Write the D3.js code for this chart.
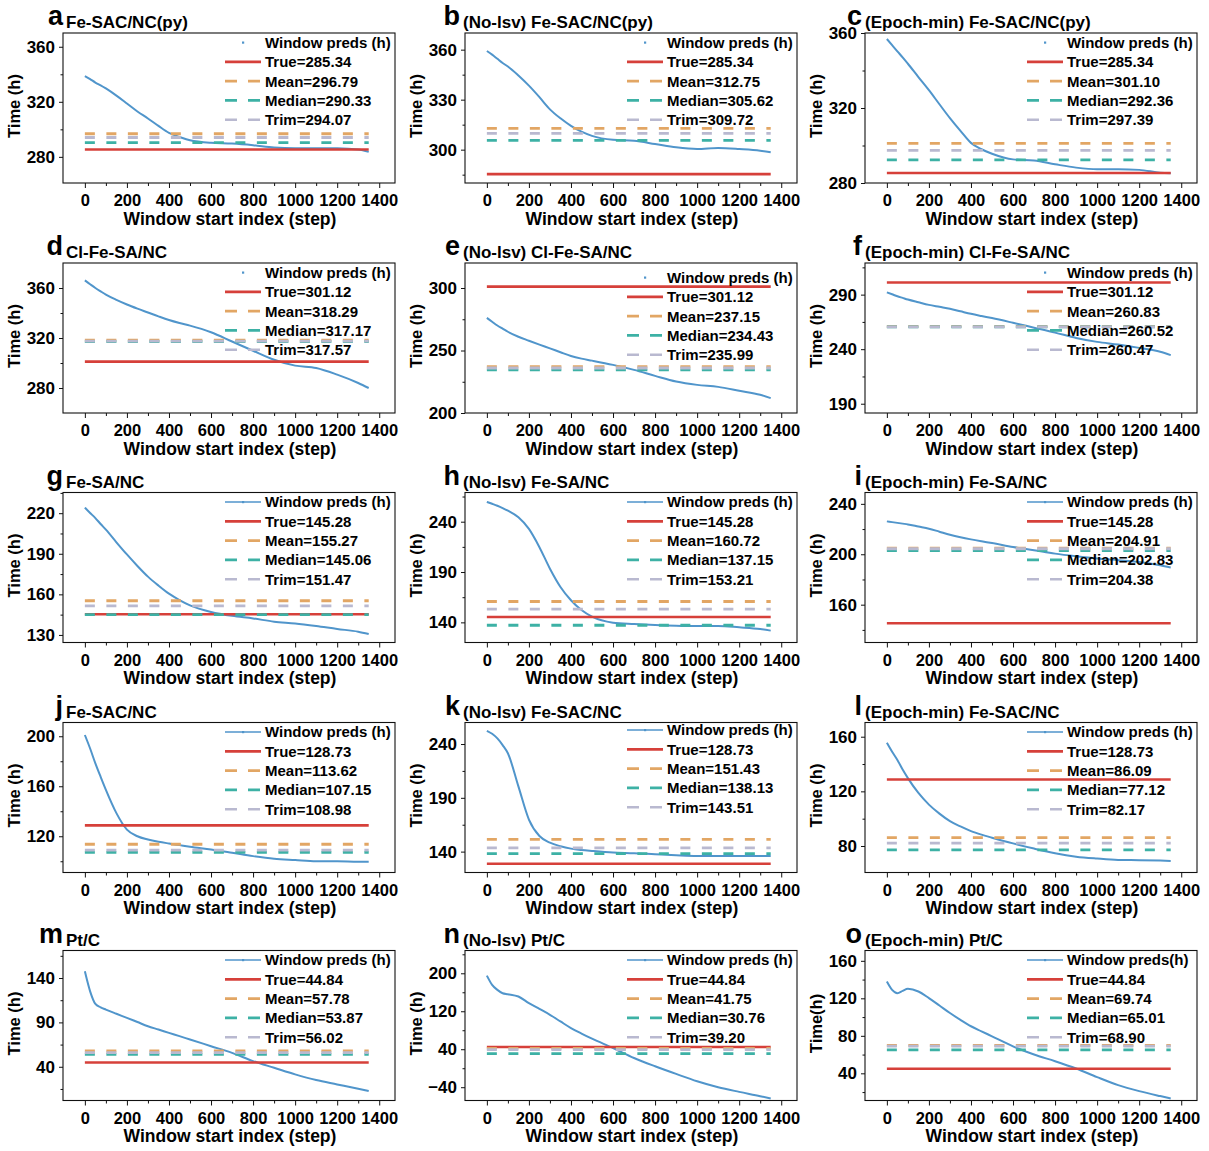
<!DOCTYPE html>
<html>
<head>
<meta charset="utf-8">
<script src="https://cdn.jsdelivr.net/npm/d3@7"></script>
<style>
  body { margin: 0; background: #fff; }
  svg { display: block; font-family: Arial, "Liberation Sans", sans-serif; font-weight: bold; }
</style>
</head>
<body>
<div id="chart"></div>
<script>
// ---- data ----
const panelLetters = ["a","b","c","d","e","f","g","h","i","j","k","l","m","n","o"];
const panelNames = [
  "Fe-SAC/NC(py)", "(No-lsv) Fe-SAC/NC(py)", "(Epoch-min) Fe-SAC/NC(py)",
  "Cl-Fe-SA/NC", "(No-lsv) Cl-Fe-SA/NC", "(Epoch-min) Cl-Fe-SA/NC",
  "Fe-SA/NC", "(No-lsv) Fe-SA/NC", "(Epoch-min) Fe-SA/NC",
  "Fe-SAC/NC", "(No-lsv) Fe-SAC/NC", "(Epoch-min) Fe-SAC/NC",
  "Pt/C", "(No-lsv) Pt/C", "(Epoch-min) Pt/C"
];

// window start index where the prediction curves were sampled
const steps = [0,25,50,75,100,150,200,250,300,350,400,450,500,600,700,800,900,1000,1100,1200,1300,1350];

const predsA = [338.7,336.5,334.0,332.0,329.7,324.5,318.8,313.0,307.9,302.5,297.5,294.5,292.0,290.2,289.7,288.5,286.8,286.3,286.3,286.2,285.3,283.6];
const predsB = [359.2,357.0,354.5,352.0,349.9,344.5,338.4,331.5,324.2,318.8,314.3,310.8,308.3,305.9,305.3,303.4,301.4,300.4,301.0,300.4,299.4,298.4];
const predsC = [356.8,353.5,350.2,347.0,343.6,336.5,329.5,322.0,314.6,307.8,301.4,298.0,295.6,292.6,292.0,290.0,288.2,287.3,287.3,287.0,285.5,285.2];
const predsD = [366.1,363.0,360.0,357.3,354.7,350.5,346.8,343.5,340.4,337.3,334.4,332.0,329.9,324.6,317.2,309.8,302.6,297.9,296.0,290.7,284.0,280.0];
const predsE = [276.1,273.0,270.0,267.5,265.0,261.0,257.8,254.7,251.7,248.6,245.6,243.5,241.9,238.5,234.5,229.7,225.2,222.5,220.9,217.8,214.6,211.9];
const predsF = [292.1,290.3,288.5,287.0,285.5,283.0,280.6,278.8,277.0,274.7,272.4,270.4,268.5,264.2,259.7,255.2,250.3,246.7,244.2,241.2,237.6,234.5];
const predsG = [224.1,220.2,216.4,212.0,207.8,198.5,189.5,181.0,173.1,166.5,160.5,155.8,151.9,147.0,144.1,142.2,139.8,138.5,136.6,134.4,132.4,130.7];
const predsH = [259.7,257.8,255.8,253.5,250.9,244.3,232.8,214.7,193.3,175.2,162.0,152.2,145.6,139.7,138.4,137.4,136.7,136.4,136.4,135.1,133.4,131.8];
const predsI = [226.1,225.5,224.9,224.3,223.7,222.0,220.3,217.9,215.5,213.5,211.8,210.3,208.9,205.8,203.2,200.5,198.4,196.6,195.3,193.9,191.3,189.5];
const predsJ = [201.0,190.2,178.3,167.5,157.1,138.5,125.3,120.0,117.4,115.6,114.2,112.9,111.6,109.4,106.8,104.1,102.0,101.0,100.1,100.1,99.6,99.6];
const predsK = [252.3,249.5,245.2,239.0,231.4,200.6,169.8,154.5,148.3,145.0,142.8,141.5,140.6,139.1,138.5,137.5,136.6,136.0,136.0,136.0,136.0,136.0];
const predsL = [155.6,149.0,143.0,136.0,129.7,118.8,110.3,103.7,98.2,94.3,90.9,88.3,86.1,81.9,78.1,74.7,72.2,70.8,69.8,69.6,69.3,69.1];
const predsM = [147.5,125.0,110.8,107.0,104.4,99.7,95.1,90.4,85.7,82.0,78.2,74.5,70.7,63.2,55.7,46.4,38.9,31.4,25.0,20.1,15.2,12.6];
const predsN = [195.0,175.5,165.0,158.0,156.0,151.0,137.0,125.0,112.6,98.5,84.6,73.0,62.2,42.6,21.6,4.1,-12.0,-27.4,-40.0,-49.8,-58.9,-63.8];
const predsO = [137.9,129.0,125.5,128.0,130.1,127.3,120.2,112.3,104.3,97.0,90.2,84.8,79.5,68.8,60.0,52.9,45.1,35.9,27.4,21.0,15.7,13.2];
const preds = [predsA,predsB,predsC,predsD,predsE,predsF,predsG,predsH,predsI,predsJ,predsK,predsL,predsM,predsN,predsO];

const trueVals   = [285.34,285.34,285.34,301.12,301.12,301.12,145.28,145.28,145.28,128.73,128.73,128.73,44.84,44.84,44.84];
const meanVals   = [296.79,312.75,301.10,318.29,237.15,260.83,155.27,160.72,204.91,113.62,151.43,86.09,57.78,41.75,69.74];
const medianVals = [290.33,305.62,292.36,317.17,234.43,260.52,145.06,137.15,202.83,107.15,138.13,77.12,53.87,30.76,65.01];
const trimVals   = [294.07,309.72,297.39,317.57,235.99,260.47,151.47,153.21,204.38,108.98,143.51,82.17,56.02,39.20,68.90];

const xTicks = [0,200,400,600,800,1000,1200,1400];
const xDomain = [-104, 1475];
const lineSpan = [0, 1350];
const yDomains = [
  [261,370],[280,370],[280,360],
  [260,380],[200,320],[181.5,319],
  [124.4,235.3],[120,269],[130,249],
  [91,211],[120.6,260],[60.6,170.4],
  [2,171],[-68,248],[11,171]
];
const yTicks = [
  [280,320,360],[300,330,360],[280,320,360],
  [280,320,360],[200,250,300],[190,240,290],
  [130,160,190,220],[140,190,240],[160,200,240],
  [120,160,200],[140,190,240],[80,120,160],
  [40,90,140],[-40,40,120,200],[40,80,120,160]
];
const predLabels = panelLetters.map(l => l === "o" ? "Window preds(h)" : "Window preds (h)");
const yLabels = panelLetters.map(l => l === "o" ? "Time(h)" : "Time (h)");

// ---- layout ----
const W = 1209, H = 1151;
const colLeft = [63, 465, 865];
const rowTop = [33, 263, 492.5, 722.5, 950.5];
const pw = 332, ph = 150;
const nameDx = [3, -2, 0];
const legendDy = {e: 5, k: -2};

const colors = {
  preds: "#5095cb",
  true: "#d6403a",
  mean: "#e2a664",
  median: "#3db1a5",
  trim: "#b9b9d0"
};

const svg = d3.select("#chart")
  .append("svg")
  .attr("width", W)
  .attr("height", H);

svg.append("rect").attr("width", W).attr("height", H).attr("fill", "#fff");

panelLetters.forEach((letter, i) => {
  const col = i % 3, row = Math.floor(i / 3);
  const g = svg.append("g")
    .attr("transform", `translate(${colLeft[col]},${rowTop[row]})`);

  const x = d3.scaleLinear().domain(xDomain).range([0, pw]);
  const y = d3.scaleLinear().domain(yDomains[i]).range([ph, 0]);

  // prediction curve
  const line = d3.line()
    .x((d, j) => x(steps[j]))
    .y(d => y(d))
    .curve(d3.curveMonotoneX);

  g.append("path")
    .datum(preds[i])
    .attr("d", line)
    .attr("fill", "none")
    .attr("stroke", colors.preds)
    .attr("stroke-width", 2);

  // reference lines
  const refs = [
    {key: "true", v: trueVals[i], dash: null, label: "True="},
    {key: "mean", v: meanVals[i], dash: "10,11.5", label: "Mean="},
    {key: "median", v: medianVals[i], dash: "10,11.5", label: "Median="},
    {key: "trim", v: trimVals[i], dash: "10,11.5", label: "Trim="}
  ];
  refs.forEach(r => {
    g.append("line")
      .attr("x1", x(lineSpan[0])).attr("x2", x(lineSpan[1]))
      .attr("y1", y(r.v)).attr("y2", y(r.v))
      .attr("stroke", colors[r.key])
      .attr("stroke-width", r.key === "true" ? 2.6 : 2.8)
      .attr("stroke-dasharray", r.dash);
  });

  // axes
  const xAxis = g.append("g")
    .attr("transform", `translate(0,${ph})`)
    .call(d3.axisBottom(x).tickValues(xTicks).tickSize(5).tickPadding(6.5).tickFormat(d3.format("d")));
  g.append("g")
    .attr("transform", `translate(0,${ph})`)
    .call(d3.axisBottom(x).tickValues(d3.range(100, 1400, 200)).tickSize(3).tickFormat(""));

  const yt = yTicks[i];
  const yStep = yt[1] - yt[0];
  const yMinor = d3.range(yt[0] - yStep / 2, yDomains[i][1], yStep)
    .filter(v => v > yDomains[i][0] && v < yDomains[i][1]);
  const yAxis = g.append("g")
    .call(d3.axisLeft(y).tickValues(yt).tickSize(4).tickPadding(4).tickFormat(d3.format("d")));
  g.append("g")
    .call(d3.axisLeft(y).tickValues(yMinor).tickSize(2.5).tickFormat(""));

  g.selectAll(".domain").remove();
  g.selectAll(".tick line").attr("stroke", "#111").attr("stroke-width", 1);
  xAxis.selectAll("text").attr("font-size", 16.5).attr("font-weight", "bold").attr("fill", "#000");
  yAxis.selectAll("text").attr("font-size", 17).attr("font-weight", "bold").attr("fill", "#000");

  // frame
  g.append("rect")
    .attr("width", pw).attr("height", ph)
    .attr("fill", "none")
    .attr("stroke", "#111")
    .attr("stroke-width", 1.1);

  // axis labels
  g.append("text")
    .attr("x", pw / 2 + 1)
    .attr("y", ph + 41.5)
    .attr("text-anchor", "middle")
    .attr("font-size", 17.5)
    .text("Window start index (step)");

  g.append("text")
    .attr("transform", `translate(-49,${ph / 2 - 2}) rotate(-90)`)
    .attr("text-anchor", "middle")
    .attr("dy", "0.35em")
    .attr("font-size", 16.5)
    .text(yLabels[i]);

  // title
  const nx = nameDx[col];
  g.append("text")
    .attr("x", nx)
    .attr("y", -5)
    .attr("font-size", 17)
    .text(panelNames[i]);
  g.append("text")
    .attr("x", nx - 3)
    .attr("y", -8)
    .attr("text-anchor", "end")
    .attr("font-size", 27)
    .text(letter);

  // legend
  const lg = g.append("g")
    .attr("transform", `translate(${pw - 170},${9.5 + (legendDy[letter] || 0)})`);
  const rowH = 19.3;
  if (row >= 2) {
    lg.append("line")
      .attr("x1", 0).attr("x2", 36).attr("y1", 0).attr("y2", 0)
      .attr("stroke", colors.preds).attr("stroke-width", 1.3);
  }
  lg.append("rect")
    .attr("x", 17).attr("y", -1).attr("width", 2.2).attr("height", 2.2)
    .attr("fill", colors.preds);
  lg.append("text")
    .attr("x", 40).attr("y", 0).attr("dy", "0.36em")
    .attr("font-size", 15)
    .text(predLabels[i]);

  refs.forEach((r, k) => {
    const ly = rowH * (k + 1);
    lg.append("line")
      .attr("x1", 0).attr("x2", 36).attr("y1", ly).attr("y2", ly)
      .attr("stroke", colors[r.key])
      .attr("stroke-width", r.key === "true" ? 2.8 : 2.6)
      .attr("stroke-dasharray", r.dash ? "12,11" : null);
    lg.append("text")
      .attr("x", 40).attr("y", ly).attr("dy", "0.36em")
      .attr("font-size", 15)
      .text(r.label + r.v.toFixed(2));
  });
});
</script>
</body>
</html>
